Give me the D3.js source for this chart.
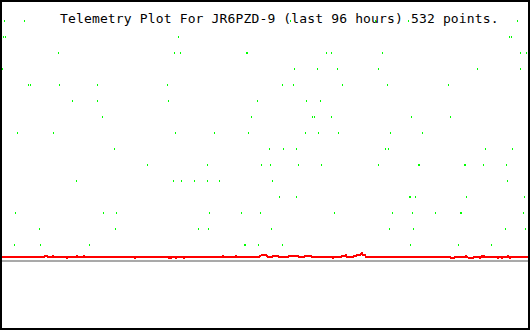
<html>
<head>
<meta charset="utf-8">
<script src="https://d3js.org/d3.v7.min.js"></script>
<title>Telemetry</title>
<style>
  body { margin: 0; background: #fff; }
</style>
</head>
<body>
<svg id="plot" width="530" height="330"></svg>
<script>
const title = "Telemetry Plot For JR6PZD-9 (last 96 hours) 532 points.";

// green telemetry samples, one list of sample columns per value level
const levels = [240, 224, 208, 192, 176, 160, 144, 128, 112, 96, 80, 64, 48, 32, 16];
const levelCols = [
  [4, 24, 290, 375, 408, 517],
  [3, 5, 178, 509, 511],
  [58, 174, 180, 246, 247, 326, 331, 382, 520, 526],
  [2, 294, 317, 337, 378, 477, 520],
  [28, 30, 59, 97, 167, 282, 293, 342, 387, 448],
  [72, 97, 168, 257, 306, 320],
  [102, 251, 312, 314, 331, 411, 450],
  [17, 53, 175, 214, 248, 305, 318, 338, 390, 422],
  [114, 269, 283, 296, 385, 388, 485, 512],
  [147, 207, 261, 270, 298, 321, 378, 418, 419, 464, 465, 483, 506],
  [76, 173, 181, 194, 207, 219, 272, 507],
  [279, 296, 409, 410, 415, 466, 524, 528],
  [15, 103, 116, 209, 241, 260, 334, 392, 412, 435, 460, 461, 523],
  [39, 115, 198, 208, 271, 389, 413, 505, 525],
  [14, 40, 89, 244, 245, 258, 282, 410, 458, 491]
];

// red trace: sample column and value
const redCols = [1, 44, 45, 47, 48, 52, 53, 54, 66, 67, 68, 76, 77, 78, 83, 84, 85, 134, 135, 136,
  168, 169, 170, 171, 172, 175, 176, 177, 183, 184, 185, 222, 223, 224, 235, 236, 237, 259, 260, 262,
  264, 266, 268, 272, 273, 278, 279, 288, 289, 298, 299, 304, 305, 311, 312, 332, 333, 334, 341, 342,
  345, 346, 347, 353, 354, 356, 357, 360, 362, 363, 365, 366, 450, 451, 454, 455, 465, 466, 467, 469,
  473, 474, 479, 480, 481, 482, 483, 484, 485, 497, 498, 499, 501, 502, 503, 507, 508, 509, 510, 511, 529];
const redVals = [4, 4, 5, 5, 4, 4, 5, 4, 4, 3, 4, 4, 5, 4, 4, 5, 4, 4, 3, 4,
  4, 3, 4, 3, 4, 4, 3, 4, 4, 3, 4, 4, 5, 4, 4, 5, 4, 4, 5, 6,
  6, 6, 4, 4, 5, 5, 4, 4, 5, 5, 4, 4, 5, 5, 4, 4, 3, 4, 4, 5,
  5, 6, 4, 4, 5, 5, 6, 6, 8, 6, 6, 4, 4, 3, 3, 4, 4, 5, 4, 3,
  3, 4, 4, 3, 4, 5, 4, 5, 4, 4, 3, 4, 4, 3, 4, 4, 5, 4, 3, 4, 4];

const baseValue = 0;

const svg = d3.select("#plot");
const W = 530, H = 330;

const x = d3.scaleLinear().domain([0, 530]).range([0, 530]);
const y = d3.scaleLinear().domain([0, 240]).range([261, 21]);

svg.append("rect").attr("width", W).attr("height", H).attr("fill", "#fff");

// baseline
svg.append("line")
   .attr("x1", 1).attr("x2", 529)
   .attr("y1", y(baseValue)).attr("y2", y(baseValue))
   .attr("stroke", "#a9a9a9").attr("stroke-width", 2)
   .attr("shape-rendering", "crispEdges");

// title
svg.append("text")
   .attr("x", 60).attr("y", 23)
   .attr("font-family", "'DejaVu Sans Mono', monospace")
   .attr("font-size", 13)
   .attr("letter-spacing", 0.15)
   .attr("fill", "#000")
   .text(title);

// red trace
const redData = redCols.map((c, i) => [c, redVals[i]]);
svg.append("path")
   .datum(redData)
   .attr("fill", "none")
   .attr("stroke", "#ff0000")
   .attr("stroke-width", 2)
   .attr("shape-rendering", "crispEdges")
   .attr("d", d3.line().x(d => x(d[0])).y(d => y(d[1])));

// green dots
const dots = [];
levels.forEach((v, i) => levelCols[i].forEach(c => dots.push([c, v])));
svg.selectAll("rect.dot")
   .data(dots)
   .join("rect")
   .attr("class", "dot")
   .attr("x", d => x(d[0]))
   .attr("y", d => y(d[1]) - 1)
   .attr("width", 1)
   .attr("height", 2)
   .attr("fill", "#00ff00")
   .attr("shape-rendering", "crispEdges");

// frame
svg.append("path")
   .attr("d", "M1,0V330M0,0.5H530M529,0V330M0,329H530")
   .attr("stroke", "#000")
   .attr("stroke-width", 2)
   .attr("fill", "none")
   .attr("shape-rendering", "crispEdges");
</script>
</body>
</html>
